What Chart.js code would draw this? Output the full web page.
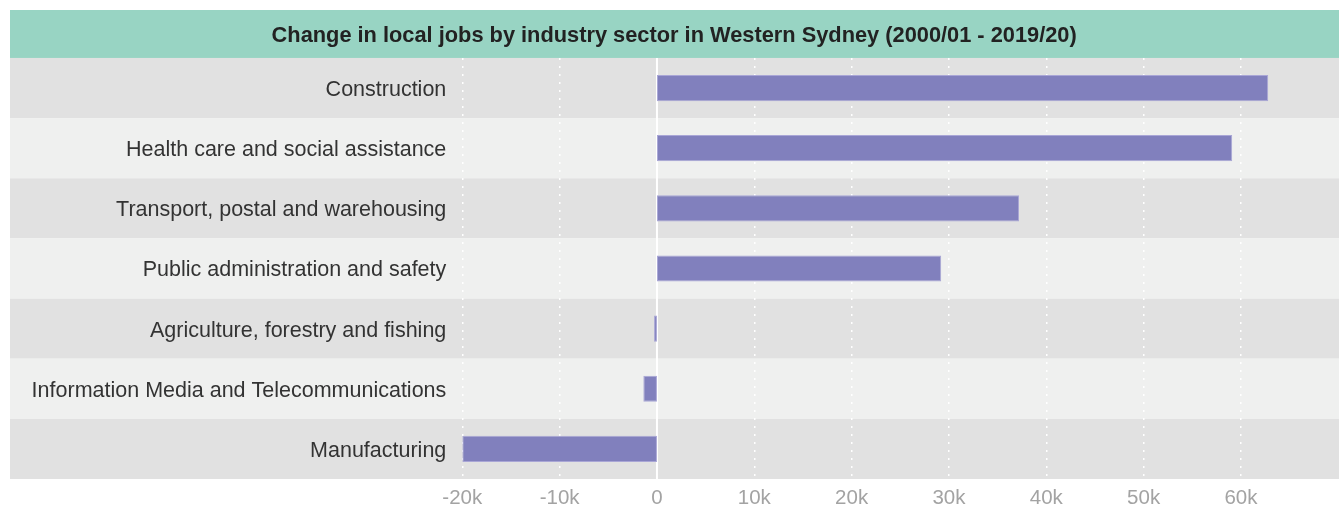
<!DOCTYPE html>
<html>
<head>
<meta charset="utf-8">
<script src="https://cdn.jsdelivr.net/npm/chart.js@4/dist/chart.umd.min.js"></script>
<style>
  html, body { margin: 0; padding: 0; background: #ffffff; }
  #wrap { width: 1339px; height: 510px; position: relative; }
</style>
</head>
<body>
<div id="wrap"><canvas id="c"></canvas></div>
<script>
const titleText = 'Change in local jobs by industry sector in Western Sydney (2000/01 - 2019/20)';
const categories = [
  'Construction',
  'Health care and social assistance',
  'Transport, postal and warehousing',
  'Public administration and safety',
  'Agriculture, forestry and fishing',
  'Information Media and Telecommunications',
  'Manufacturing'
];
const jobChange = [62800, 59100, 37200, 29200, -300, -1400, -20000];
const tickMin = -20000;
const tickMax = 70000;
const tickStep = 10000;

const bandPlugin = {
  id: 'bands',
  beforeDraw(chart) {
    const ctx = chart.ctx;
    const tb = chart.titleBlock;
    ctx.save();
    ctx.fillStyle = '#98d4c3';
    ctx.fillRect(10, tb.top, chart.width - 10, tb.height);
    const ys = chart.scales.y;
    const n = categories.length;
    const step = (ys.bottom - ys.top) / n;
    for (let i = 0; i < n; i++) {
      const c = ys.getPixelForValue(i);
      ctx.fillStyle = (i % 2 === 0) ? '#e1e1e1' : '#eff0ef';
      ctx.fillRect(10, c - step / 2, chart.width - 10, step);
    }
    ctx.restore();
  },
  beforeDatasetsDraw(chart) {
    const ctx = chart.ctx;
    const xs = chart.scales.x;
    const x0 = xs.getPixelForValue(0);
    ctx.save();
    ctx.strokeStyle = '#ffffff';
    ctx.lineWidth = 2;
    ctx.beginPath();
    ctx.moveTo(x0, chart.chartArea.top);
    ctx.lineTo(x0, chart.chartArea.bottom);
    ctx.stroke();
    ctx.restore();
  }
};

new Chart(document.getElementById('c'), {
  type: 'bar',
  data: {
    labels: categories,
    datasets: [{
      data: jobChange,
      backgroundColor: '#8180bd',
      borderColor: '#a9a6d6',
      borderWidth: 1,
      borderSkipped: false,
      categoryPercentage: 1,
      barPercentage: 0.435
    }]
  },
  options: {
    indexAxis: 'y',
    responsive: true,
    maintainAspectRatio: false,
    animation: false,
    layout: { padding: { top: 10, left: 10, right: 0.7, bottom: 0 } },
    plugins: {
      legend: { display: false },
      tooltip: { enabled: false },
      title: {
        display: true,
        text: titleText,
        color: '#222222',
        font: { family: '"Liberation Sans", Arial, sans-serif', size: 21.8, weight: 'bold', lineHeight: 1.15 },
        padding: { top: 13.5, bottom: 9.4 }
      }
    },
    scales: {
      x: {
        type: 'linear',
        min: tickMin,
        max: tickMax,
        ticks: {
          stepSize: tickStep,
          color: '#a3a3a3',
          font: { family: '"Liberation Sans", Arial, sans-serif', size: 20.5 },
          padding: 7,
          callback: (v) => v === 0 ? '0' : (v === tickMax ? '' : (v / 1000) + 'k')
        },
        grid: {
          color: '#ffffff',
          lineWidth: (ctx) => (ctx.tick && (ctx.tick.value === 0 || ctx.tick.value === tickMax)) ? 0 : 1.5,
          drawTicks: false
        },
        border: { display: false, dash: [2, 6] },
        afterFit: (s) => { s.height = 31; s.paddingLeft = 0; s.paddingRight = 0; }
      },
      y: {
        ticks: {
          color: '#333333',
          font: { family: '"Liberation Sans", Arial, sans-serif', size: 21.5 },
          padding: 16,
          labelOffset: 2
        },
        grid: { display: false, drawTicks: false },
        border: { display: false },
        afterFit: (s) => { s.width = 452.3; s.paddingTop = 0; s.paddingBottom = 0; }
      }
    }
  },
  plugins: [bandPlugin]
});
</script>
</body>
</html>
